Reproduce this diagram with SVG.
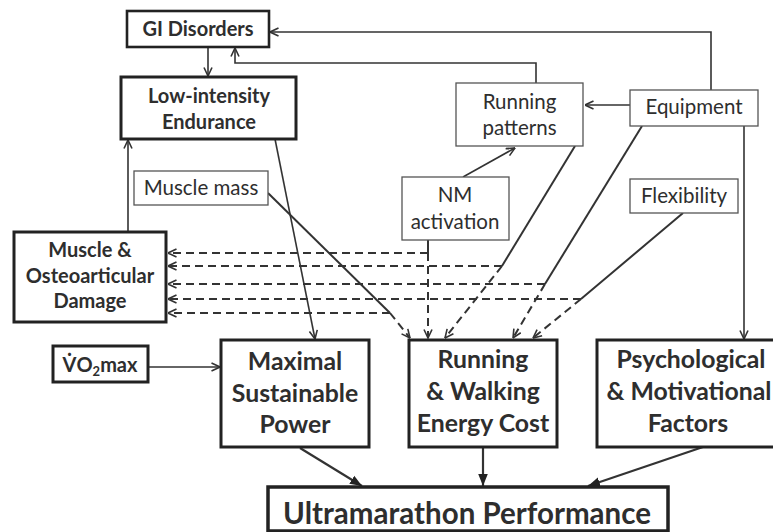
<svg xmlns="http://www.w3.org/2000/svg" width="773" height="532" viewBox="0 0 773 532">
<defs>
<style>
.t{font-family:Lato,"Open Sans","Liberation Sans",sans-serif;fill:#2e2e2e;text-anchor:middle}
.b{font-weight:bold}
.r{font-size:20.5px}
.sb{font-size:20px;font-weight:bold}
.bb{font-size:24.8px;font-weight:bold}
.thin{fill:#fff;stroke:#555;stroke-width:1.3}
.thick{fill:#fff;stroke:#222;stroke-width:3}
.c{fill:none;stroke:#333;stroke-width:1.6}
.d{fill:none;stroke:#333;stroke-width:2;stroke-dasharray:8 5}
.s{fill:none;stroke:#333;stroke-width:2}
.k{fill:none;stroke:#333;stroke-width:2.2}
</style>
<marker id="a" viewBox="0 0 10 10" refX="9.5" refY="5" markerWidth="10" markerHeight="10" markerUnits="userSpaceOnUse" orient="auto">
<path d="M1,1 L9.5,5 L1,9" fill="none" stroke="#333" stroke-width="1.6"/>
</marker>
<marker id="f" viewBox="0 0 10 10" refX="10" refY="5" markerWidth="12" markerHeight="12" markerUnits="userSpaceOnUse" orient="auto">
<path d="M0,1 L10,5 L0,9 Z" fill="#222"/>
</marker>
</defs>

<g id="connectors">
<polyline class="c" points="711,90 711,32 270,32" marker-end="url(#a)"/>
<polyline class="c" points="536,83 536,63 235,63 235,48" marker-end="url(#a)"/>
<line class="c" x1="208" y1="47" x2="208" y2="76" marker-end="url(#a)"/>
<line class="c" x1="128" y1="232" x2="128" y2="140" marker-end="url(#a)"/>
<line class="c" x1="275" y1="139" x2="315" y2="339" marker-end="url(#a)"/>
<line class="c" x1="630" y1="105" x2="585" y2="105" marker-end="url(#a)"/>
<line class="c" x1="463" y1="177" x2="515" y2="148" marker-end="url(#a)"/>
<line class="c" x1="744" y1="126" x2="744" y2="339" marker-end="url(#a)"/>
<line class="c" x1="148" y1="367" x2="220" y2="367" marker-end="url(#a)"/>
<!-- muscle mass -->
<line class="s" x1="268" y1="193" x2="390" y2="313"/>
<line class="d" x1="390" y1="313" x2="410" y2="338" marker-end="url(#a)"/>
<line class="d" x1="390" y1="313" x2="168" y2="313" marker-end="url(#a)"/>
<!-- NM activation -->
<line class="s" x1="428" y1="240" x2="428" y2="253"/>
<line class="d" x1="428" y1="253" x2="428" y2="338" marker-end="url(#a)"/>
<line class="d" x1="428" y1="253" x2="168" y2="253" marker-end="url(#a)"/>
<!-- running patterns -->
<line class="s" x1="575" y1="146" x2="502" y2="266"/>
<line class="d" x1="502" y1="266" x2="445" y2="338" marker-end="url(#a)"/>
<line class="d" x1="502" y1="266" x2="168" y2="266" marker-end="url(#a)"/>
<!-- equipment -->
<line class="s" x1="642" y1="126" x2="545" y2="284"/>
<line class="d" x1="545" y1="284" x2="513" y2="338" marker-end="url(#a)"/>
<line class="d" x1="545" y1="284" x2="168" y2="284" marker-end="url(#a)"/>
<!-- flexibility -->
<line class="s" x1="683" y1="213" x2="581" y2="299"/>
<line class="d" x1="581" y1="299" x2="533" y2="338" marker-end="url(#a)"/>
<line class="d" x1="581" y1="299" x2="168" y2="299" marker-end="url(#a)"/>
<!-- to ultramarathon -->
<line class="k" x1="300" y1="448" x2="362" y2="486" marker-end="url(#f)"/>
<line class="k" x1="483" y1="447" x2="483" y2="486" marker-end="url(#f)"/>
<line class="k" x1="703" y1="447" x2="588" y2="486" marker-end="url(#f)"/>
</g>

<g id="gi">
<rect class="thick" x="127" y="11" width="142" height="36" style="stroke-width:2.6"/>
<text class="t sb" x="198" y="36">GI Disorders</text>
</g>
<g id="lowint">
<rect class="thick" x="121" y="77" width="175" height="62"/>
<text class="t sb" x="209" y="103">Low-intensity</text>
<text class="t sb" x="209" y="129">Endurance</text>
</g>
<g id="musclemass">
<rect class="thin" x="134" y="171" width="134" height="34"/>
<text class="t r" x="201" y="195">Muscle mass</text>
</g>
<g id="damage">
<rect class="thick" x="14" y="232" width="152" height="90"/>
<text class="t sb" x="90" y="257">Muscle &amp;</text>
<text class="t sb" x="90" y="283">Osteoarticular</text>
<text class="t sb" x="90" y="308">Damage</text>
</g>
<g id="runpat">
<rect class="thin" x="456" y="83" width="127" height="63"/>
<text class="t r" x="519.5" y="109">Running</text>
<text class="t r" x="519.5" y="135">patterns</text>
</g>
<g id="equipment">
<rect class="thin" x="630" y="90" width="128" height="36"/>
<text class="t r" x="694" y="114">Equipment</text>
</g>
<g id="nm">
<rect class="thin" x="402" y="177" width="107" height="63"/>
<text class="t r" x="455" y="202">NM</text>
<text class="t r" x="455" y="229">activation</text>
</g>
<g id="flex">
<rect class="thin" x="630" y="179" width="108" height="34"/>
<text class="t r" x="684" y="203">Flexibility</text>
</g>
<g id="vo2">
<rect class="thick" x="53" y="346" width="95" height="36"/>
<text class="t sb" x="100" y="372">V&#775;O<tspan font-size="13" dy="4">2</tspan><tspan dy="-4">max</tspan></text>
</g>
<g id="msp">
<rect class="thick" x="221" y="340" width="148" height="107"/>
<text class="t bb" x="295" y="370">Maximal</text>
<text class="t bb" x="295" y="402">Sustainable</text>
<text class="t bb" x="295" y="433">Power</text>
</g>
<g id="rwec">
<rect class="thick" x="409" y="340" width="148" height="107"/>
<text class="t bb" x="483" y="368">Running</text>
<text class="t bb" x="483" y="400">&amp; Walking</text>
<text class="t bb" x="483" y="432">Energy Cost</text>
</g>
<g id="psych">
<rect class="thick" x="597" y="340" width="190" height="107"/>
<text class="t bb" x="691" y="368">Psychological</text>
<text class="t bb" x="689" y="400" font-size="24">&amp; Motivational</text>
<text class="t bb" x="688" y="432">Factors</text>
</g>
<g id="ultra">
<rect class="thick" x="268" y="487" width="400" height="44" style="stroke-width:3.5"/>
<text class="t b" x="467" y="524" font-size="29.5">Ultramarathon Performance</text>
</g>
</svg>
